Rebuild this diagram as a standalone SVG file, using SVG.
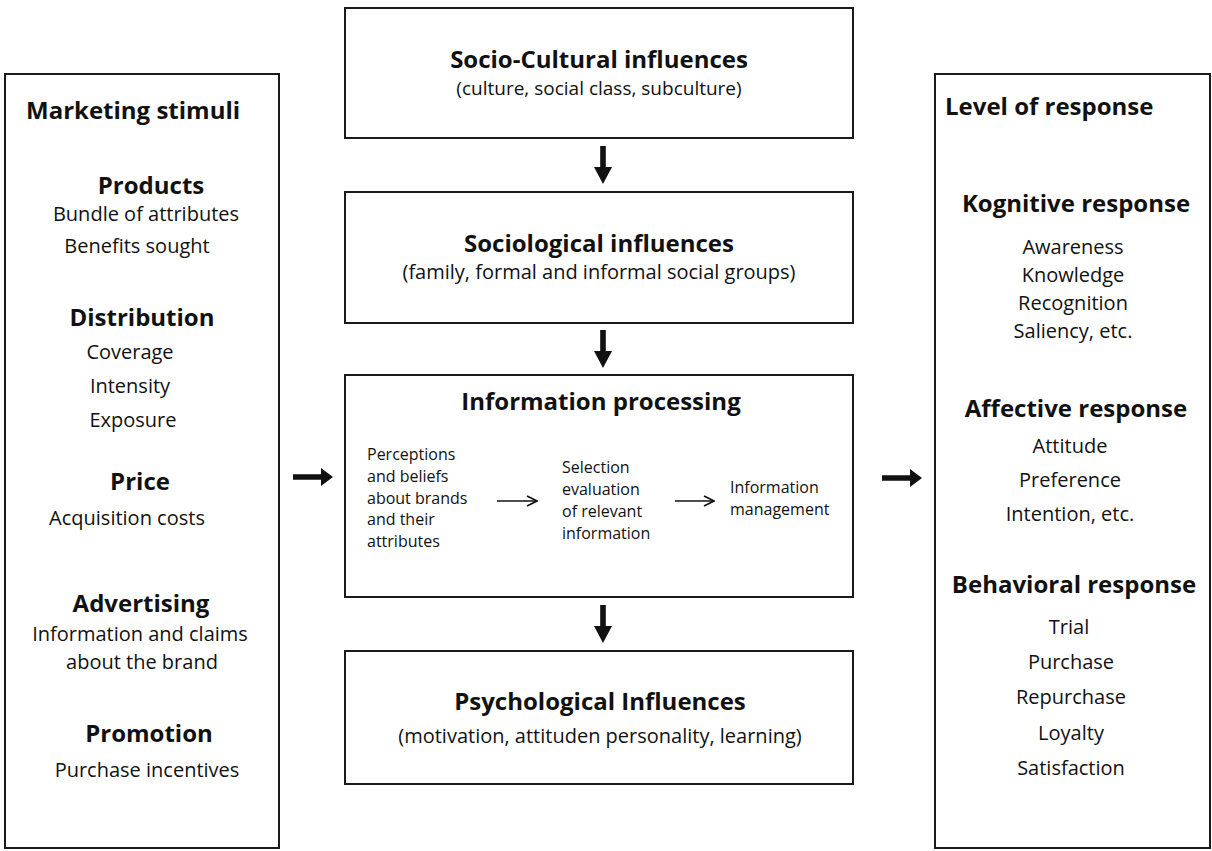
<svg xmlns="http://www.w3.org/2000/svg" width="1212" height="851" viewBox="0 0 1212 851">
  <style>
    .box { fill: #fff; stroke: #1a1a1a; stroke-width: 2; }
    text { font-family: "Open Sans", "Liberation Sans", sans-serif; fill: #111; }
    .h { font-weight: 700; font-size: 24px; }
    .b { font-size: 20px; }
    .s { font-size: 16px; }
    .c { text-anchor: middle; }
    .thin { stroke: #111; stroke-width: 1.6; fill: none; }
    .thick { fill: #111; }
  </style>
  <defs>
    <marker id="open" viewBox="0 0 12 12" refX="11" refY="6" markerWidth="12" markerHeight="12" markerUnits="userSpaceOnUse" orient="auto">
      <path d="M1,1 L11,6 L1,11" fill="none" stroke="#111" stroke-width="1.6"/>
    </marker>
    <path id="arrowDown" d="M-2.8,0 H2.8 V21 H9 L0,38 L-9,21 H-2.8 Z"/>
    <path id="arrowRight" d="M0,-2.8 V2.8 H28 V9 L40,0 L28,-9 V-2.8 Z"/>
  </defs>
  <rect width="1212" height="851" fill="#fff"/>

  <!-- left column: marketing stimuli -->
  <g id="marketing-stimuli">
    <rect class="box" x="5" y="74" width="274" height="774"/>
    <text class="h" x="26" y="119">Marketing stimuli</text>
    <text class="h c" x="151" y="194">Products</text>
    <text class="b c" x="146" y="221">Bundle of attributes</text>
    <text class="b c" x="137" y="253">Benefits sought</text>
    <text class="h c" x="142" y="326">Distribution</text>
    <text class="b c" x="130" y="359">Coverage</text>
    <text class="b c" x="130" y="393">Intensity</text>
    <text class="b c" x="133" y="427">Exposure</text>
    <text class="h c" x="140" y="490">Price</text>
    <text class="b c" x="127" y="525">Acquisition costs</text>
    <text class="h c" x="141" y="612">Advertising</text>
    <text class="b c" x="140" y="641">Information and claims</text>
    <text class="b c" x="142" y="669">about the brand</text>
    <text class="h c" x="149" y="742">Promotion</text>
    <text class="b c" x="147" y="777">Purchase incentives</text>
  </g>

  <!-- central column -->
  <g id="socio-cultural">
    <rect class="box" x="345" y="8" width="508" height="130"/>
    <text class="h c" x="599" y="68">Socio-Cultural influences</text>
    <text class="b c" x="599" y="95" style="font-size:19px">(culture, social class, subculture)</text>
  </g>
  <g id="sociological">
    <rect class="box" x="345" y="192" width="508" height="131"/>
    <text class="h c" x="599" y="252">Sociological influences</text>
    <text class="b c" x="599" y="279">(family, formal and informal social groups)</text>
  </g>
  <g id="information-processing">
    <rect class="box" x="345" y="375" width="508" height="222"/>
    <text class="h c" x="601" y="410">Information processing</text>
    <text class="s" x="367" y="460">Perceptions</text>
    <text class="s" x="367" y="482">and beliefs</text>
    <text class="s" x="367" y="504">about brands</text>
    <text class="s" x="367" y="525">and their</text>
    <text class="s" x="367" y="547">attributes</text>
    <text class="s" x="562" y="473">Selection</text>
    <text class="s" x="562" y="495">evaluation</text>
    <text class="s" x="562" y="517">of relevant</text>
    <text class="s" x="562" y="539">information</text>
    <text class="s" x="730" y="493">Information</text>
    <text class="s" x="730" y="515">management</text>
  </g>
  <g id="psychological">
    <rect class="box" x="345" y="651" width="508" height="133"/>
    <text class="h c" x="600" y="710">Psychological Influences</text>
    <text class="b c" x="600" y="743">(motivation, attituden personality, learning)</text>
  </g>

  <!-- right column: level of response -->
  <g id="level-of-response">
    <rect class="box" x="935" y="74" width="275" height="774"/>
    <text class="h" x="945" y="115">Level of response</text>
    <text class="h c" x="1076" y="212">Kognitive response</text>
    <text class="b c" x="1073" y="254">Awareness</text>
    <text class="b c" x="1073" y="282">Knowledge</text>
    <text class="b c" x="1073" y="310">Recognition</text>
    <text class="b c" x="1073" y="338">Saliency, etc.</text>
    <text class="h c" x="1076" y="417">Affective response</text>
    <text class="b c" x="1070" y="453">Attitude</text>
    <text class="b c" x="1070" y="487">Preference</text>
    <text class="b c" x="1070" y="521">Intention, etc.</text>
    <text class="h c" x="1074" y="593">Behavioral response</text>
    <text class="b c" x="1069" y="634">Trial</text>
    <text class="b c" x="1071" y="669">Purchase</text>
    <text class="b c" x="1071" y="704">Repurchase</text>
    <text class="b c" x="1071" y="740">Loyalty</text>
    <text class="b c" x="1071" y="775">Satisfaction</text>
  </g>

  <!-- connectors -->
  <g id="connectors">
    <use href="#arrowDown" class="thick" x="603" y="146"/>
    <use href="#arrowDown" class="thick" x="603" y="330"/>
    <use href="#arrowDown" class="thick" x="603" y="605"/>
    <use href="#arrowRight" class="thick" x="293" y="477"/>
    <use href="#arrowRight" class="thick" x="882" y="478"/>
    <line class="thin" x1="497" y1="501" x2="537" y2="501" marker-end="url(#open)"/>
    <line class="thin" x1="675" y1="501" x2="714" y2="501" marker-end="url(#open)"/>
  </g>
</svg>
